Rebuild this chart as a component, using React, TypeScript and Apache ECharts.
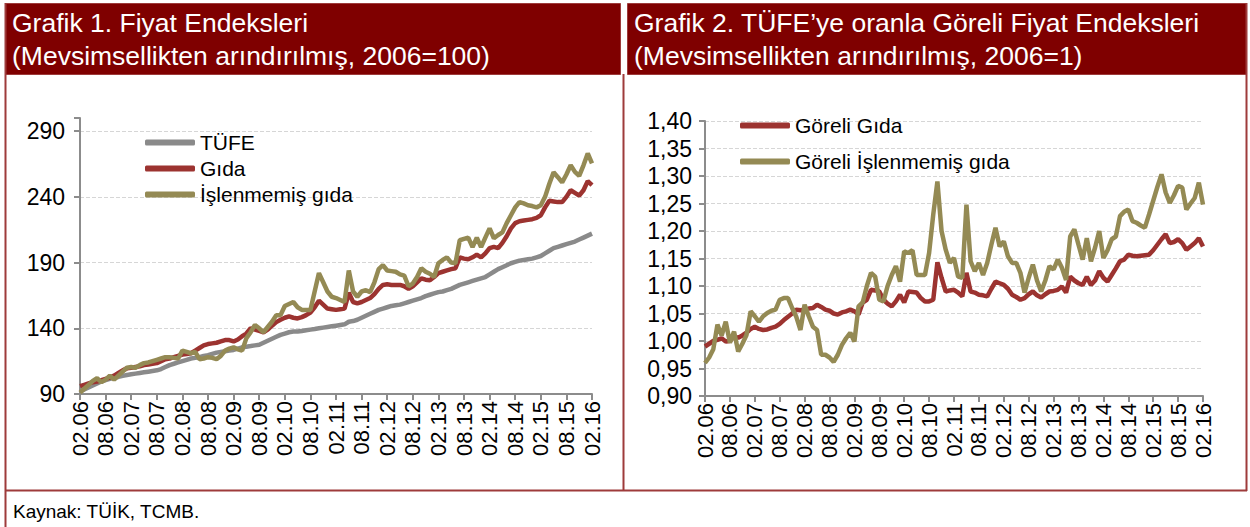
import React, { useEffect, useRef } from "react";
import * as echarts from "echarts";

const categories: string[] = [];
for (let i = 0; i <= 120; i++) {
  const m = 1 + i; // 0-based month index from Jan 2006
  const year = 2006 + Math.floor(m / 12);
  const month = (m % 12) + 1;
  categories.push(String(month).padStart(2, "0") + "." + String(year % 100).padStart(2, "0"));
}

const tufe = [
  92, 93.5, 95, 96.5, 98, 99.5, 100.5, 101.5, 102.5, 103, 103.8, 104.5,
  105, 105.5, 106, 106.5, 107, 107.5, 108, 109, 110.5, 112, 113, 114,
  115, 116, 117, 117.5, 118, 119, 119.5, 120.5, 121.5, 122, 122.5, 123,
  123.5, 124.5, 125.5, 126, 126.5, 127, 127.5, 129, 130.5, 132, 133.5, 135,
  136, 137, 137.5, 137.5, 138, 138.5, 139, 139.5, 140, 140.5, 141, 141.5,
  142, 142.5, 143, 145, 145.5, 146.5, 148, 149.5, 151, 152.5, 154, 155,
  156, 157, 157.5, 158, 159, 160, 161, 162, 163, 164.5, 165.5, 166.5,
  167.5, 168, 169, 170, 171.5, 173, 174, 175, 176, 177, 178, 179,
  181, 183, 185, 186.5, 188, 189.5, 190.5, 191.5, 192, 192.5, 193, 194,
  195, 197, 199, 201, 202, 203, 204, 205, 206, 207.5, 209, 210.5,
  212,
];

const gida = [
  96, 97, 98, 99, 99.5, 100.5, 101.5, 102.5, 104, 106, 108, 109.5,
  110, 110.5, 111, 112, 112.5, 113, 113.5, 115, 116.5, 117, 118, 119,
  120, 120.5, 121, 123, 125, 127, 128, 128.5, 129, 130, 131, 131,
  130, 131.5, 134, 136, 140, 139, 138, 137, 139, 142, 144.7, 146.5,
  148, 149, 148, 147.5, 148.5, 150, 152, 156, 161, 158, 155, 154.5,
  154, 154.5, 155, 167, 160, 159, 160, 161.5, 163, 166, 170, 173,
  173.5, 173, 173, 173, 172, 170, 172, 175, 178, 177, 176.5, 179,
  182, 183, 184, 185, 185.7, 194, 193, 192.5, 194, 196, 194, 197,
  201, 202, 201, 205, 210, 216, 220, 221.5, 222, 222.5, 223, 224,
  226, 232, 237, 236.5, 236, 236, 240, 245, 243, 241, 245, 252,
  249,
];

const islenmemis = [
  91, 94, 97, 100, 102, 99, 101, 104, 101, 104, 107, 110,
  110.5, 110, 112, 113.5, 114, 115, 116, 117, 118, 118, 117.5, 117,
  123, 122, 121, 122, 116.5, 117, 118, 117.5, 116.5, 119, 123, 124.5,
  125.5, 124, 123, 132.5, 137, 142.5, 140, 137, 141, 145, 150, 150,
  157, 158.5, 160, 156, 154, 154, 154, 168, 182, 175, 168, 164,
  163, 161.5, 160, 184, 168, 164, 168, 169, 167.5, 175, 185, 188,
  184, 183.5, 183, 181, 180, 172, 174, 179, 185.7, 183, 181.5, 179,
  189.5, 192, 194, 190, 189.5, 207, 208, 209, 201.7, 209, 201.7, 209,
  216, 208.5, 211, 213, 220, 226, 232, 236, 235, 233.6, 233, 232,
  233.6, 240, 250, 258.7, 255, 251, 257, 264, 259, 256, 264, 273,
  265.5,
];

const goreliGida = [
  0.99, 0.995, 1.0, 1.002, 1.005, 0.999, 1.0, 1.008, 1.006, 1.01, 1.015, 1.022,
  1.026, 1.022, 1.02, 1.021, 1.024, 1.026, 1.031, 1.038, 1.044, 1.05, 1.057, 1.056,
  1.057, 1.059, 1.06, 1.066, 1.062, 1.057, 1.055, 1.05, 1.048, 1.052, 1.054, 1.057,
  1.054, 1.048, 1.07, 1.075, 1.093, 1.092, 1.09, 1.075, 1.068, 1.063, 1.072, 1.084,
  1.07, 1.09, 1.089, 1.088, 1.078, 1.072, 1.072, 1.075, 1.143, 1.115, 1.09, 1.092,
  1.093, 1.088, 1.081, 1.124, 1.09, 1.088, 1.084, 1.083, 1.081, 1.095, 1.108, 1.105,
  1.102, 1.095, 1.084, 1.08, 1.075, 1.078, 1.085, 1.09, 1.083, 1.079, 1.085, 1.09,
  1.091, 1.093, 1.099, 1.088, 1.117, 1.11, 1.105, 1.102, 1.117, 1.102, 1.11, 1.127,
  1.115, 1.108, 1.12, 1.132, 1.145, 1.148, 1.157, 1.155, 1.154, 1.155, 1.156, 1.157,
  1.165, 1.175, 1.185, 1.194, 1.178, 1.18, 1.185, 1.178, 1.166, 1.172, 1.178, 1.187,
  1.172,
];

const goreliIslenmemis = [
  0.96, 0.97, 0.985, 1.03, 1.01, 1.035, 0.997, 1.017, 0.981, 0.995, 1.011, 1.054,
  1.045, 1.035, 1.045, 1.051, 1.055, 1.057, 1.075, 1.078, 1.078, 1.06, 1.044, 1.02,
  1.066, 1.045, 1.026, 1.02, 0.975, 0.975, 0.97, 0.962, 0.975, 0.993, 1.005, 1.015,
  0.999, 1.063, 1.07, 1.1, 1.124, 1.117, 1.075, 1.072, 1.1, 1.12, 1.136, 1.108,
  1.163, 1.16, 1.165, 1.12, 1.12, 1.12, 1.16, 1.23, 1.29, 1.2, 1.166, 1.142,
  1.151, 1.117, 1.115, 1.248, 1.145, 1.127, 1.142, 1.12, 1.142, 1.175, 1.206, 1.172,
  1.181, 1.154, 1.142, 1.142, 1.124, 1.088, 1.115, 1.139, 1.11, 1.09, 1.11, 1.136,
  1.13, 1.148, 1.133, 1.111, 1.19, 1.203, 1.175, 1.148, 1.187, 1.145, 1.17, 1.2,
  1.151, 1.165, 1.185, 1.19, 1.227, 1.235, 1.239, 1.218, 1.215, 1.21, 1.206, 1.23,
  1.255, 1.28, 1.303, 1.27, 1.251, 1.265, 1.282, 1.279, 1.239, 1.25, 1.26, 1.288,
  1.248,
];

const FONT = "'Liberation Sans', Arial, sans-serif";
const AXIS_GREY = "#8c8c8c";
const GRID_GREY = "#d6d6d6";
const C_TUFE = "#8a8a8a";
const C_GIDA = "#9c3330";
const C_ISL = "#948a54";
const BORDER = "#9e3b3b";
const HEADER = "#7f0000";

function xAxisCfg(gridIndex: number) {
  return {
    type: "category",
    gridIndex,
    data: categories,
    boundaryGap: false,
    axisLine: { lineStyle: { color: AXIS_GREY, width: 2 } },
    axisTick: { interval: 5, length: 6, lineStyle: { color: AXIS_GREY, width: 2 } },
    axisLabel: { interval: 5, rotate: 90, fontSize: 22, color: "#000", fontFamily: FONT, margin: 7 },
    splitLine: { show: false },
  };
}

export default function App() {
  const ref = useRef<HTMLDivElement>(null);
  useEffect(() => {
    document.body.style.margin = "0";
    const chart = echarts.init(ref.current!, null, { renderer: "svg" });
    const option: any = {
      animation: false,
      backgroundColor: "#fff",
      textStyle: { fontFamily: FONT },
      grid: [
        { left: 80, top: 118, width: 512, height: 276 },
        { left: 705, top: 121, width: 498, height: 275 },
      ],
      xAxis: [xAxisCfg(0), xAxisCfg(1)],
      yAxis: [
        {
          type: "value",
          gridIndex: 0,
          min: 90,
          max: 300,
          interval: 50,
          axisLine: { show: true, lineStyle: { color: AXIS_GREY, width: 2 } },
          axisTick: { show: true, length: 6, lineStyle: { color: AXIS_GREY, width: 2 } },
          axisLabel: {
            fontSize: 23,
            color: "#000",
            fontFamily: FONT,
            margin: 15,
            formatter: (v: number) => (v === 300 ? "" : String(v)),
          },
          splitLine: {
            show: true,
            lineStyle: {
              type: "dashed",
              width: 1,
              color: [GRID_GREY, GRID_GREY, GRID_GREY, GRID_GREY, GRID_GREY, "rgba(0,0,0,0)"],
            },
          },
        },
        {
          type: "value",
          gridIndex: 1,
          min: 0.9,
          max: 1.4,
          interval: 0.05,
          axisLine: { show: true, lineStyle: { color: AXIS_GREY, width: 2 } },
          axisTick: { show: true, length: 6, lineStyle: { color: AXIS_GREY, width: 2 } },
          axisLabel: {
            fontSize: 23,
            color: "#000",
            fontFamily: FONT,
            margin: 13,
            formatter: (v: number) => v.toFixed(2).replace(".", ","),
          },
          splitLine: { show: true, lineStyle: { type: "dashed", width: 1, color: GRID_GREY } },
        },
      ],
      legend: [
        {
          data: ["TÜFE", "Gıda", "İşlenmemiş gıda"],
          orient: "vertical",
          left: 140,
          top: 127,
          icon: "roundRect",
          itemWidth: 50,
          itemHeight: 6,
          itemGap: 5,
          selectedMode: false,
          textStyle: { fontSize: 21, color: "#000", fontFamily: FONT },
        },
        {
          data: ["Göreli Gıda", "Göreli İşlenmemiş gıda"],
          orient: "vertical",
          left: 735,
          top: 110,
          icon: "roundRect",
          itemWidth: 50,
          itemHeight: 6,
          itemGap: 15,
          selectedMode: false,
          textStyle: { fontSize: 21, color: "#000", fontFamily: FONT },
        },
      ],
      series: [
        { name: "TÜFE", type: "line", xAxisIndex: 0, yAxisIndex: 0, data: tufe, showSymbol: false, color: C_TUFE, lineStyle: { width: 4.5, color: C_TUFE } },
        { name: "Gıda", type: "line", xAxisIndex: 0, yAxisIndex: 0, data: gida, showSymbol: false, color: C_GIDA, lineStyle: { width: 4.5, color: C_GIDA } },
        { name: "İşlenmemiş gıda", type: "line", xAxisIndex: 0, yAxisIndex: 0, data: islenmemis, showSymbol: false, color: C_ISL, lineStyle: { width: 4.5, color: C_ISL } },
        { name: "Göreli Gıda", type: "line", xAxisIndex: 1, yAxisIndex: 1, data: goreliGida, showSymbol: false, color: C_GIDA, lineStyle: { width: 4.5, color: C_GIDA } },
        { name: "Göreli İşlenmemiş gıda", type: "line", xAxisIndex: 1, yAxisIndex: 1, data: goreliIslenmemis, showSymbol: false, color: C_ISL, lineStyle: { width: 4.5, color: C_ISL } },
      ],
      graphic: [
        { type: "rect", shape: { x: 5.5, y: 3.5, width: 615, height: 71 }, style: { fill: HEADER, stroke: BORDER, lineWidth: 1 }, z: 0 },
        { type: "rect", shape: { x: 627.5, y: 3.5, width: 619, height: 71 }, style: { fill: HEADER, stroke: BORDER, lineWidth: 1 }, z: 0 },
        { type: "line", shape: { x1: 5.5, y1: 3, x2: 5.5, y2: 527 }, style: { stroke: BORDER, lineWidth: 2 } },
        { type: "line", shape: { x1: 1246.5, y1: 3, x2: 1246.5, y2: 491 }, style: { stroke: BORDER, lineWidth: 2 } },
        { type: "line", shape: { x1: 623.5, y1: 74, x2: 623.5, y2: 491 }, style: { stroke: BORDER, lineWidth: 2 } },
        { type: "line", shape: { x1: 5, y1: 490.5, x2: 1247, y2: 490.5 }, style: { stroke: BORDER, lineWidth: 2 } },
        {
          type: "text",
          left: 12,
          top: 6,
          style: {
            text: "Grafik 1. Fiyat Endeksleri\n(Mevsimsellikten arındırılmış, 2006=100)",
            fill: "#fff",
            font: `26.5px ${FONT}`,
            lineHeight: 33,
          },
        },
        {
          type: "text",
          left: 634,
          top: 6,
          style: {
            text: "Grafik 2. TÜFE’ye oranla Göreli Fiyat Endeksleri\n(Mevsimsellikten arındırılmış, 2006=1)",
            fill: "#fff",
            font: `26.5px ${FONT}`,
            lineHeight: 33,
          },
        },
        {
          type: "text",
          left: 13,
          top: 502,
          style: { text: "Kaynak: TÜİK, TCMB.", fill: "#000", font: `19px ${FONT}` },
        },
      ],
    };
    chart.setOption(option);
    return () => chart.dispose();
  }, []);
  return <div ref={ref} style={{ width: 1250, height: 527 }} />;
}
